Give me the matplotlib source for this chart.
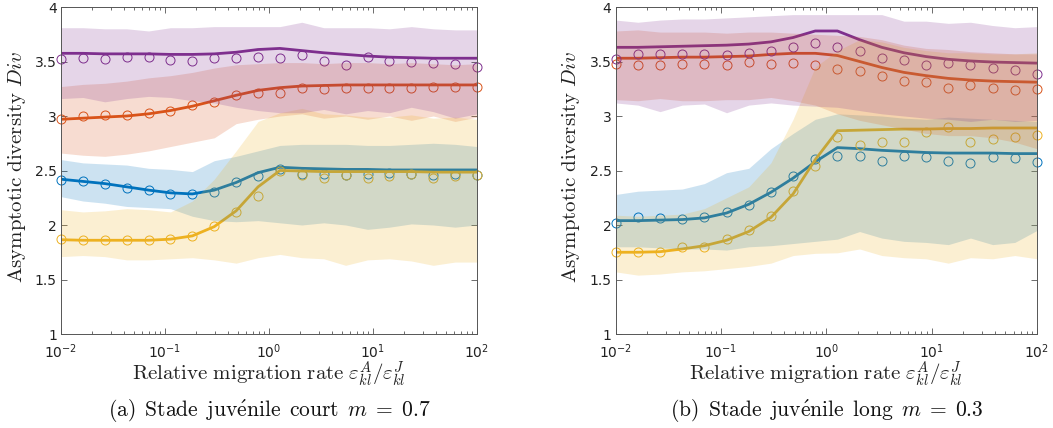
import matplotlib
matplotlib.use('Agg')
import matplotlib.pyplot as plt
from matplotlib.ticker import LogLocator, FixedLocator, FormatStrFormatter, NullFormatter

plt.rcParams['mathtext.fontset'] = 'cm'
plt.rcParams['font.family'] = ['DejaVu Sans']

# relative migration rate grid (20 log-spaced values)
x_rate = [0.01, 0.01624, 0.02637, 0.04281, 0.06952, 0.1129, 0.1833, 0.2976, 0.4833, 0.7848,
          1.274, 2.069, 3.360, 5.456, 8.859, 14.38, 23.36, 37.93, 61.58, 100.0]

# ---------------- panel (a) : m = 0.7 ----------------
a_purple_line = [3.575, 3.575, 3.57, 3.57, 3.57, 3.565, 3.565, 3.57, 3.585, 3.61, 3.62, 3.60, 3.58, 3.565, 3.55, 3.54, 3.535, 3.53, 3.53, 3.53]
a_purple_pts  = [3.52, 3.53, 3.52, 3.54, 3.54, 3.515, 3.505, 3.535, 3.535, 3.545, 3.535, 3.56, 3.505, 3.465, 3.54, 3.505, 3.50, 3.49, 3.48, 3.445]
a_purple_hi   = [3.81, 3.81, 3.80, 3.80, 3.78, 3.81, 3.81, 3.82, 3.82, 3.82, 3.82, 3.86, 3.81, 3.81, 3.81, 3.80, 3.82, 3.80, 3.79, 3.79]
a_purple_lo   = [3.16, 3.17, 3.13, 3.16, 3.18, 3.17, 3.14, 3.12, 3.08, 3.05, 3.03, 3.03, 3.06, 3.02, 3.05, 3.03, 3.08, 3.04, 2.98, 3.02]

a_orange_line = [2.97, 2.98, 2.99, 3.00, 3.02, 3.05, 3.09, 3.14, 3.19, 3.235, 3.26, 3.275, 3.28, 3.285, 3.285, 3.285, 3.285, 3.285, 3.285, 3.285]
a_orange_pts  = [2.97, 3.00, 3.01, 3.005, 3.025, 3.045, 3.10, 3.13, 3.195, 3.21, 3.215, 3.255, 3.25, 3.255, 3.26, 3.26, 3.255, 3.265, 3.265, 3.27]
a_orange_hi   = [3.27, 3.29, 3.30, 3.32, 3.35, 3.37, 3.40, 3.44, 3.47, 3.48, 3.49, 3.49, 3.48, 3.49, 3.49, 3.48, 3.49, 3.48, 3.47, 3.48]
a_orange_lo   = [2.66, 2.64, 2.63, 2.65, 2.68, 2.72, 2.76, 2.80, 2.93, 2.97, 3.00, 3.02, 2.98, 3.00, 2.97, 3.00, 2.96, 3.00, 2.95, 2.99]

a_blue_line = [2.42, 2.40, 2.38, 2.35, 2.32, 2.295, 2.285, 2.32, 2.39, 2.48, 2.53, 2.52, 2.515, 2.51, 2.51, 2.505, 2.505, 2.505, 2.505, 2.505]
a_blue_pts  = [2.41, 2.40, 2.38, 2.34, 2.32, 2.28, 2.28, 2.305, 2.39, 2.45, 2.51, 2.47, 2.47, 2.46, 2.47, 2.48, 2.47, 2.46, 2.47, 2.46]
a_blue_hi   = [2.60, 2.57, 2.56, 2.55, 2.52, 2.51, 2.49, 2.59, 2.63, 2.68, 2.73, 2.74, 2.74, 2.74, 2.73, 2.73, 2.74, 2.75, 2.74, 2.72]
a_blue_lo   = [2.26, 2.22, 2.20, 2.17, 2.16, 2.15, 2.08, 2.04, 2.03, 2.04, 2.02, 2.00, 2.02, 2.00, 1.96, 1.98, 2.01, 2.00, 1.98, 2.00]

a_yellow_line = [1.865, 1.86, 1.86, 1.86, 1.86, 1.87, 1.90, 1.985, 2.13, 2.35, 2.50, 2.495, 2.49, 2.49, 2.49, 2.49, 2.49, 2.485, 2.485, 2.485]
a_yellow_pts  = [1.87, 1.86, 1.86, 1.86, 1.86, 1.875, 1.90, 1.99, 2.12, 2.27, 2.50, 2.455, 2.43, 2.46, 2.43, 2.445, 2.47, 2.43, 2.45, 2.455]
a_yellow_hi   = [2.14, 2.12, 2.13, 2.15, 2.14, 2.12, 2.22, 2.42, 2.68, 2.95, 3.03, 3.07, 3.02, 3.01, 2.99, 2.99, 3.01, 2.98, 2.99, 2.97]
a_yellow_lo   = [1.71, 1.72, 1.71, 1.68, 1.68, 1.69, 1.70, 1.68, 1.65, 1.70, 1.73, 1.70, 1.69, 1.63, 1.68, 1.69, 1.67, 1.63, 1.66, 1.66]

# ---------------- panel (b) : m = 0.3 ----------------
b_purple_line = [3.63, 3.63, 3.635, 3.64, 3.645, 3.65, 3.66, 3.68, 3.72, 3.78, 3.78, 3.70, 3.63, 3.58, 3.545, 3.52, 3.505, 3.495, 3.49, 3.485]
b_purple_pts  = [3.525, 3.565, 3.565, 3.57, 3.57, 3.56, 3.58, 3.595, 3.63, 3.67, 3.63, 3.60, 3.53, 3.51, 3.47, 3.49, 3.465, 3.44, 3.42, 3.385]
b_purple_hi   = [3.88, 3.86, 3.88, 3.89, 3.89, 3.90, 3.91, 3.92, 3.93, 3.93, 3.93, 3.93, 3.93, 3.87, 3.87, 3.85, 3.86, 3.83, 3.81, 3.82]
b_purple_lo   = [3.12, 3.10, 3.04, 3.10, 3.11, 3.03, 3.10, 3.12, 3.10, 3.09, 3.08, 3.05, 3.02, 3.00, 2.98, 2.97, 2.95, 2.97, 2.95, 2.96]

b_orange_line = [3.53, 3.53, 3.535, 3.54, 3.54, 3.545, 3.55, 3.565, 3.575, 3.575, 3.555, 3.50, 3.445, 3.40, 3.37, 3.345, 3.33, 3.32, 3.315, 3.31]
b_orange_pts  = [3.475, 3.47, 3.47, 3.475, 3.48, 3.47, 3.50, 3.475, 3.485, 3.47, 3.43, 3.41, 3.37, 3.32, 3.31, 3.26, 3.28, 3.255, 3.24, 3.25]
b_orange_hi   = [3.78, 3.79, 3.77, 3.77, 3.77, 3.76, 3.77, 3.77, 3.76, 3.75, 3.74, 3.73, 3.70, 3.65, 3.62, 3.61, 3.59, 3.58, 3.57, 3.57]
b_orange_lo   = [3.15, 3.14, 3.16, 3.14, 3.14, 3.15, 3.15, 3.17, 3.14, 3.10, 3.02, 2.96, 2.92, 2.88, 2.84, 2.82, 2.82, 2.80, 2.76, 2.70]

b_blue_line = [2.04, 2.04, 2.045, 2.05, 2.065, 2.11, 2.19, 2.30, 2.43, 2.58, 2.71, 2.70, 2.685, 2.675, 2.665, 2.66, 2.66, 2.66, 2.655, 2.655]
b_blue_pts  = [2.02, 2.07, 2.06, 2.055, 2.07, 2.12, 2.185, 2.30, 2.445, 2.61, 2.63, 2.635, 2.59, 2.635, 2.62, 2.585, 2.57, 2.62, 2.615, 2.575]
b_blue_hi   = [2.28, 2.31, 2.32, 2.33, 2.38, 2.48, 2.52, 2.70, 2.84, 2.97, 3.02, 3.01, 3.00, 2.98, 2.97, 2.99, 2.98, 2.97, 2.96, 2.95]
b_blue_lo   = [1.80, 1.80, 1.79, 1.78, 1.78, 1.77, 1.80, 1.81, 1.83, 1.85, 1.87, 1.94, 1.88, 1.85, 1.84, 1.82, 1.88, 1.82, 1.84, 1.95]

b_yellow_line = [1.75, 1.75, 1.755, 1.78, 1.81, 1.86, 1.94, 2.07, 2.285, 2.60, 2.865, 2.87, 2.875, 2.88, 2.88, 2.885, 2.885, 2.89, 2.89, 2.89]
b_yellow_pts  = [1.755, 1.75, 1.75, 1.795, 1.80, 1.87, 1.95, 2.08, 2.31, 2.54, 2.81, 2.73, 2.76, 2.765, 2.855, 2.90, 2.765, 2.79, 2.81, 2.83]
b_yellow_hi   = [2.09, 2.08, 2.09, 2.10, 2.15, 2.25, 2.35, 2.57, 2.97, 3.45, 3.60, 3.70, 3.68, 3.63, 3.60, 3.58, 3.58, 3.57, 3.57, 3.58]
b_yellow_lo   = [1.57, 1.54, 1.55, 1.57, 1.58, 1.60, 1.62, 1.65, 1.72, 1.74, 1.745, 1.78, 1.72, 1.70, 1.69, 1.65, 1.70, 1.69, 1.72, 1.69]

y_ticks = [1, 1.5, 2, 2.5, 3, 3.5, 4]
captions = [r'$\mathrm{(a)\ \,Stade\ \,juv\acute{e}nile\ \,court}\ \,m\;=\;0.7$',
            r'$\mathrm{(b)\ \,Stade\ \,juv\acute{e}nile\ \,long}\ \,m\;=\;0.3$']
x_label = r'$\mathrm{Relative\ migration\ rate}\ \varepsilon^{A}_{kl}/\varepsilon^{J}_{kl}$'
y_label = r'$\mathrm{Asymptotic\ diversity}\ Div$'

C_BLUE = '#0072BD'
C_ORANGE = '#D95319'
C_YELLOW = '#EDB120'
C_PURPLE = '#7E2F8E'
AX_COL = '#555555'

W, H = 1053, 428
fig = plt.figure(figsize=(W / 100, H / 100), dpi=100)

panels = [
    dict(rect=[61 / W, 1 - 334 / H, 416 / W, 327 / H],
         series=[(a_blue_line, a_blue_pts, a_blue_lo, a_blue_hi, C_BLUE),
                 (a_orange_line, a_orange_pts, a_orange_lo, a_orange_hi, C_ORANGE),
                 (a_yellow_line, a_yellow_pts, a_yellow_lo, a_yellow_hi, C_YELLOW),
                 (a_purple_line, a_purple_pts, a_purple_lo, a_purple_hi, C_PURPLE)],
         ylab_x=17 / W, caption=captions[0]),
    dict(rect=[615.7 / W, 1 - 334 / H, 421.3 / W, 327 / H],
         series=[(b_blue_line, b_blue_pts, b_blue_lo, b_blue_hi, C_BLUE),
                 (b_orange_line, b_orange_pts, b_orange_lo, b_orange_hi, C_ORANGE),
                 (b_yellow_line, b_yellow_pts, b_yellow_lo, b_yellow_hi, C_YELLOW),
                 (b_purple_line, b_purple_pts, b_purple_lo, b_purple_hi, C_PURPLE)],
         ylab_x=571 / W, caption=captions[1]),
]

for p in panels:
    ax = fig.add_axes(p['rect'])
    for line, pts, lo, hi, c in p['series']:
        ax.plot(x_rate, line, color=c, lw=2.0, zorder=2, solid_capstyle='butt')
        ax.plot(x_rate, pts, 'o', mfc='none', mec=c, ms=6.5, mew=0.7, zorder=2, clip_on=False)
    for line, pts, lo, hi, c in p['series']:
        ax.fill_between(x_rate, lo, hi, color=c, alpha=0.2, lw=0, zorder=3)

    ax.set_xscale('log')
    ax.set_xlim(0.01, 100)
    ax.set_ylim(1, 4)
    ax.xaxis.set_major_locator(LogLocator(base=10, numticks=10))
    ax.xaxis.set_minor_locator(LogLocator(base=10, subs=[2, 3, 4, 5, 6, 7, 8, 9], numticks=20))
    ax.xaxis.set_minor_formatter(NullFormatter())
    ax.yaxis.set_major_locator(FixedLocator(y_ticks))
    ax.yaxis.set_major_formatter(FormatStrFormatter('%g'))
    ax.tick_params(which='both', direction='in', top=True, right=True, color=AX_COL,
                   labelcolor='#222222', labelsize=10, width=0.6)
    ax.tick_params(which='major', length=4)
    ax.tick_params(which='minor', length=2)
    ax.tick_params(axis='y', pad=3)
    ax.tick_params(axis='x', pad=6)
    for s in ax.spines.values():
        s.set_color(AX_COL)
        s.set_linewidth(0.7)
        s.set_zorder(5)

    bb = p['rect']
    cx = bb[0] + bb[2] / 2
    fig.text(cx, 1 - 374 / H, x_label, ha='center', va='center', fontsize=15, color='#222222')
    fig.text(p['ylab_x'], 1 - 167 / H, y_label, ha='center', va='center', rotation=90,
             fontsize=15, color='#222222')
    fig.text(cx, 1 - 411 / H, p['caption'], ha='center', va='center', fontsize=15.5, color='#111111')

fig.savefig('out.png', dpi=100)
